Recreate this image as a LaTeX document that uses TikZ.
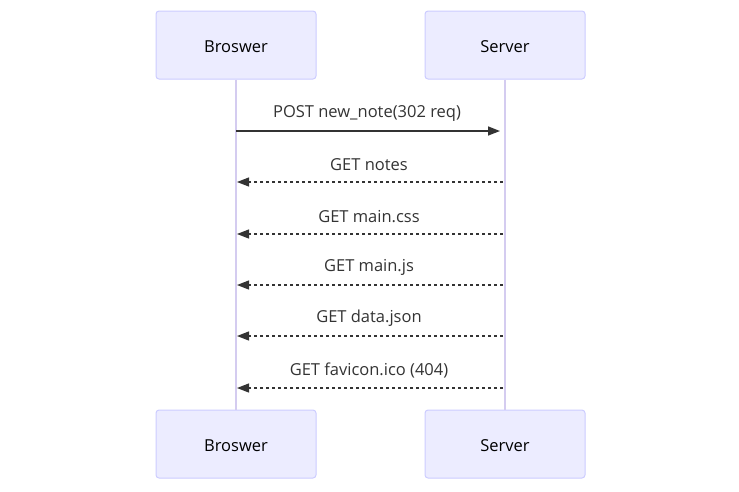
\documentclass[tikz,border=0pt]{standalone}
\usepackage{fontspec}
\setmainfont{Open Sans}
\usetikzlibrary{arrows.meta}
\definecolor{actfill}{HTML}{ECECFF}
\definecolor{actdraw}{HTML}{CCCCFF}
\definecolor{life}{HTML}{D4CCF0}
\definecolor{ink}{HTML}{333333}
\tikzset{
  actor/.style={draw=actdraw, fill=actfill, line width=1pt, rounded corners=3pt,
    minimum width=160pt, minimum height=68pt, inner sep=0pt, font=\fontsize{16.5}{19}\selectfont, text=black,
    text height=14.8pt, text depth=0pt},
  lifeline/.style={draw=life, line width=1.5pt},
  msg/.style={draw=ink, line width=1.5pt, -{Triangle[length=12pt,width=9pt]}},
  reply/.style={msg, dash pattern=on 3pt off 3pt, line width=1.2pt},
  lbl/.style={font=\fontsize{16.5}{19}\selectfont, text=ink, inner sep=0pt}
}
\begin{document}
\begin{tikzpicture}[x=1pt,y=-1pt]
\useasboundingbox (0,0) rectangle (739,491);
\node[actor] (bt) at (236,45) {Broswer};
\node[actor] (st) at (505,45) {Server};
\node[actor] (bb) at (236,444) {Broswer};
\node[actor] (sb) at (505,444) {Server};
\draw[lifeline] (bt.south) -- (bb.north);
\draw[lifeline] (st.south) -- (sb.north);
\coordinate (b1) at (236,131); \coordinate (s1) at (500,131);
\draw[msg] (b1) -- (s1);
\node[lbl] (l1) at (367,113.5) {POST new\_note(302 req)};
\foreach \y/\t [count=\i] in {182/GET notes, 234/GET main.css, 285/GET main.js, 336/GET data.json, 388/GET favicon.ico (404)} {
  \coordinate (rs\i) at (503,\y);
  \coordinate (rb\i) at (237,\y);
  \draw[reply] (rs\i) -- (rb\i);
  \node[lbl] (rl\i) at (369,\y-17.5) {\t};
}
\end{tikzpicture}
\end{document}
